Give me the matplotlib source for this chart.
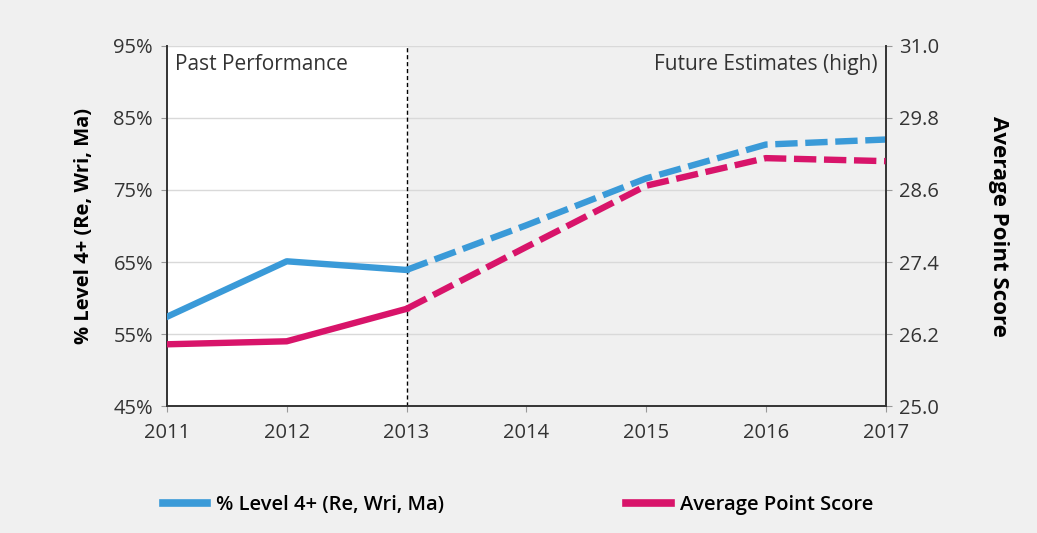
import matplotlib.pyplot as plt
from matplotlib.ticker import FuncFormatter
from matplotlib.lines import Line2D

plt.rcParams['font.family'] = ['Open Sans', 'DejaVu Sans']

years = [2011, 2012, 2013, 2014, 2015, 2016, 2017]
level4 = [57.4, 65.1, 63.9, 70.1, 76.6, 81.3, 82.0]
aps = [26.03, 26.08, 26.62, 27.65, 28.67, 29.13, 29.08]
split_year = 2013

blue = '#3a9ad8'
pink = '#d8146a'
bg = '#f0f0f0'
txt = '#333333'

fig = plt.figure(figsize=(10.37, 5.33), dpi=100)
fig.set_facecolor(bg)
ax = fig.add_axes((0.161, 0.238, 0.693, 0.676))
ax.set_facecolor(bg)
ax2 = ax.twinx()

# white "past" band and the split marker
k = years.index(split_year)
ax.axvspan(years[0], split_year, color='white', zorder=0)
ax.axvline(split_year, color='black', lw=1, ls=(0, (3, 2)), zorder=1)

# solid for actuals, dashed for estimates
lw = 4.6
dash = (0, (3.5, 1.2))
ax.plot(years[:k + 1], level4[:k + 1], color=blue, lw=lw, zorder=3)
ax.plot(years[k:], level4[k:], color=blue, lw=lw, ls=dash, zorder=3)
ax2.plot(years[:k + 1], aps[:k + 1], color=pink, lw=lw, zorder=3)
ax2.plot(years[k:], aps[k:], color=pink, lw=lw, ls=dash, zorder=3)

ax.set_xlim(years[0], years[-1])
ax.set_ylim(45, 95)
ax.set_yticks(range(45, 96, 10))
ax.yaxis.set_major_formatter(FuncFormatter(lambda v, p: f'{v:.0f}%'))
ax2.set_ylim(25.0, 31.0)
ax2.set_yticks([25.0, 26.2, 27.4, 28.6, 29.8, 31.0])
ax2.yaxis.set_major_formatter(FuncFormatter(lambda v, p: f'{v:.1f}'))
ax.set_xticks(years)

ax.grid(axis='y', color='#d9d9d9', lw=1, zorder=0)
ax.set_axisbelow(True)

for a in (ax, ax2):
    a.spines['top'].set_visible(False)
    for s in ('left', 'right', 'bottom'):
        a.spines[s].set_color('#333333')
        a.spines[s].set_linewidth(1.4)
    a.tick_params(length=4, color='#999999', labelsize=14.5, labelcolor=txt, pad=6)
ax.spines['right'].set_visible(False)
ax2.spines['left'].set_visible(False)
ax2.spines['bottom'].set_visible(False)
ax.tick_params(axis='x', pad=8)

ax.set_ylabel('% Level 4+ (Re, Wri, Ma)', fontsize=14.5, fontweight='bold', labelpad=14)
ax2.set_ylabel('Average Point Score', fontsize=16, fontweight='bold', rotation=-90, labelpad=50)

ax.text(2011.07, 92.4, 'Past Performance', ha='left', va='center', fontsize=15, color=txt)
ax.text(2016.93, 92.4, 'Future Estimates (high)', ha='right', va='center', fontsize=15, color=txt)

leg_kw = dict(loc='center left', frameon=False, handlelength=2.2,
              handletextpad=0.45, borderpad=0, borderaxespad=0,
              prop={'weight': 'semibold', 'size': 14.5})
fig.legend([Line2D([0], [0], color=blue, lw=5.5)], ['% Level 4+ (Re, Wri, Ma)'],
           bbox_to_anchor=(0.157, 0.053), **leg_kw)
fig.legend([Line2D([0], [0], color=pink, lw=5.5)], ['Average Point Score'],
           bbox_to_anchor=(0.604, 0.053), **leg_kw)

fig.savefig('out.png', dpi=100, facecolor=bg)
